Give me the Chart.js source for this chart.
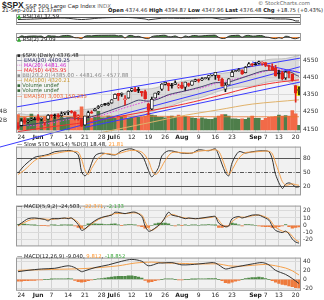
<!DOCTYPE html>
<html><head><meta charset="utf-8">
<script src="https://cdn.jsdelivr.net/npm/chart.js@4.4.1/dist/chart.umd.min.js"></script>
<style>
body{margin:0;width:324px;height:300px;background:#fff;overflow:hidden;position:relative;font-family:"DejaVu Sans",sans-serif;}
canvas{position:absolute;left:0;}
.t{position:absolute;white-space:nowrap;font-size:5.3px;color:#222;line-height:1;}
</style></head><body>
<div class="t" style="left:2px;top:1px;font-size:5.5px"><b style="font-size:8.5px;font-family:'Liberation Sans'">$SPX</b> S&amp;P 500 Large Cap Index <span style="color:#777">INDX</span></div>
<div class="t" style="left:258px;top:1px;color:#666">© StockCharts.com</div>
<div class="t" style="left:2px;top:8px">21-Sep-2021 11:37am</div>
<div class="t" style="left:108px;top:8px"><b>Open</b> 4374.46 <b>High</b> 4394.87 <b>Low</b> 4347.96 <b>Last</b> 4376.48 <b>Chg</b> +18.75 (+0.43%) <span style="color:#3a3">▲</span></div>

<canvas id="c1" width="324" height="21" style="top:13px"></canvas>
<canvas id="c2" width="324" height="17" style="top:33px"></canvas>
<canvas id="c3" width="324" height="104" style="top:49px"></canvas>
<canvas id="c4" width="324" height="60" style="top:141px"></canvas>
<canvas id="c5" width="324" height="52" style="top:200px"></canvas>
<canvas id="c6" width="324" height="48" style="top:252px"></canvas>

<div class="t" style="left:17px;top:14px"><span style="color:#3a3">▲</span> RSI(14) 37.59</div>
<div class="t" style="left:17px;top:37px"><span style="color:#3a3">▲</span> RSI(2) 29.09</div>
<div class="t" style="left:17px;top:53px">▪ $SPX (Daily) 4376.48</div>
<div class="t" style="left:17px;top:58px;color:#336">— <span>EMA(20) 4409.25</span></div>
<div class="t" style="left:17px;top:63px;color:#c2c">··· MA(20) 4481.46</div>
<div class="t" style="left:17px;top:68px;color:#e22">— MA(50) 4435.95</div>
<div class="t" style="left:17px;top:73px;color:#888">▪ BB(20,2.0) 4385.00 - 4481.46 - 4577.88</div>
<div class="t" style="left:17px;top:78px;color:#c93">— MA(100) 4320.21</div>
<div class="t" style="left:17px;top:83px;color:#363">▪ Volume undef</div>
<div class="t" style="left:17px;top:88px;color:#363">▪ Volume undef</div>
<div class="t" style="left:17px;top:94px;color:#e63">— EMA(50) 3,003,150,235</div>
<div class="t" style="left:17px;top:142px">— Slow STO %K(14) %D(3) 18.48, <span style="color:#f93">21.81</span></div>
<div class="t" style="left:17px;top:204px">— MACD(5,9,2) -24.503, <span style="color:#f93">-22.371</span>, <span style="color:#4a4">-2.133</span></div>
<div class="t" style="left:17px;top:254px">— MACD(12,26,9) -9.040, <span style="color:#f93">9.812</span>, <span style="color:#4a4">-18.852</span></div>

<script>
// ---------- DATA ----------
const dates = ['May 21','May 24','May 25','May 26','May 27','May 28','Jun 1','Jun 2','Jun 3','Jun 4','Jun 7','Jun 8','Jun 9','Jun 10','Jun 11','Jun 14','Jun 15','Jun 16','Jun 17','Jun 18','Jun 21','Jun 22','Jun 23','Jun 24','Jun 25','Jun 28','Jun 29','Jun 30','Jul 1','Jul 2','Jul 6','Jul 7','Jul 8','Jul 9','Jul 12','Jul 13','Jul 14','Jul 15','Jul 16','Jul 19','Jul 20','Jul 21','Jul 22','Jul 23','Jul 26','Jul 27','Jul 28','Jul 29','Jul 30','Aug 2','Aug 3','Aug 4','Aug 5','Aug 6','Aug 9','Aug 10','Aug 11','Aug 12','Aug 13','Aug 16','Aug 17','Aug 18','Aug 19','Aug 20','Aug 23','Aug 24','Aug 25','Aug 26','Aug 27','Aug 30','Aug 31','Sep 1','Sep 2','Sep 3','Sep 7','Sep 8','Sep 9','Sep 10','Sep 13','Sep 14','Sep 15','Sep 16','Sep 17','Sep 20','Sep 21'];
const tickDays = [1,6,10,15,20,25,28,30,34,39,44,49,54,59,64,71,74,78,83];
const tickText = ['24','Jun','7','14','21','28','Jul','6','12','19','26','Aug','9','16','23','Sep','7','13','20'];
const monthTicks = ['Jun','Jul','Aug','Sep'];

const open  = [4168,4170,4205,4191,4201,4210,4216,4207,4191,4207,4229,4233,4232,4228,4243,4249,4255,4248,4220,4205,4173,4225,4249,4257,4274,4285,4294,4290,4301,4326,4357,4352,4321,4330,4373,4382,4381,4369,4368,4297,4266,4331,4361,4382,4410,4417,4402,4410,4395,4406,4393,4415,4405,4429,4437,4436,4443,4447,4464,4462,4463,4441,4382,4406,4454,4484,4490,4490,4478,4514,4529,4528,4535,4532,4536,4519,4514,4506,4475,4479,4447,4477,4469,4403,4374];
const high  = [4188,4209,4213,4203,4213,4218,4234,4215,4198,4234,4233,4237,4238,4250,4249,4256,4258,4252,4233,4212,4226,4255,4256,4271,4286,4292,4300,4302,4321,4355,4358,4360,4344,4372,4387,4393,4393,4370,4376,4301,4336,4359,4369,4415,4422,4417,4416,4430,4412,4422,4423,4417,4430,4441,4440,4449,4450,4461,4468,4480,4463,4446,4418,4444,4490,4492,4502,4495,4513,4537,4531,4537,4545,4541,4536,4522,4530,4521,4492,4485,4486,4485,4471,4403,4395];
const low   = [4151,4168,4183,4186,4198,4203,4198,4199,4172,4207,4216,4211,4218,4224,4233,4234,4242,4203,4202,4165,4173,4218,4241,4255,4268,4281,4287,4287,4301,4326,4316,4340,4290,4330,4367,4368,4362,4341,4324,4234,4263,4329,4350,4375,4406,4373,4388,4410,4387,4385,4374,4398,4404,4426,4422,4431,4441,4436,4459,4438,4431,4399,4368,4406,4454,4483,4486,4468,4477,4514,4515,4522,4527,4522,4513,4493,4493,4457,4445,4435,4438,4448,4428,4306,4348];
const close = [4156,4197,4188,4196,4201,4204,4202,4208,4193,4230,4227,4227,4220,4239,4247,4255,4247,4224,4222,4166,4225,4246,4242,4266,4281,4291,4292,4298,4320,4352,4344,4358,4321,4370,4385,4369,4374,4360,4327,4258,4323,4359,4367,4412,4422,4401,4401,4419,4395,4387,4423,4403,4429,4437,4432,4437,4448,4461,4468,4480,4448,4400,4406,4442,4480,4486,4496,4470,4509,4529,4523,4524,4537,4535,4520,4514,4493,4459,4469,4443,4481,4474,4433,4358,4376];
const volume = [3.3,2.6,2.7,2.5,3.4,2.4,2.7,2.5,2.8,2.5,2.6,2.8,2.6,2.8,2.4,2.6,2.7,3.0,3.2,5.0,2.8,2.7,2.5,2.7,4.0,2.6,2.6,3.0,2.9,2.5,3.0,2.9,3.1,2.5,2.6,2.8,2.7,2.8,3.0,3.6,3.2,3.1,2.8,2.8,2.6,2.9,3.0,2.7,3.2,2.9,2.9,2.8,2.6,2.5,2.4,2.6,2.4,2.3,2.3,2.6,3.0,3.3,3.3,3.0,2.4,2.4,2.3,2.4,2.3,2.6,3.0,2.5,2.5,2.1,2.5,2.7,2.8,2.9,3.2,3.0,3.1,3.0,4.2,3.5,1.0];
const volEma50 = [[0,2.9],[20,2.95],[40,2.95],[60,2.85],[84,2.85]];

const ema20 = [[0,4165],[5,4180],[10,4195],[15,4215],[19,4210],[22,4222],[25,4240],[29,4268],[33,4295],[36,4318],[39,4312],[42,4325],[45,4350],[50,4372],[55,4397],[59,4420],[62,4418],[65,4435],[70,4468],[73,4487],[76,4492],[78,4487],[81,4483],[82,4478],[83,4465],[84,4457]];
const ma20  = [[0,4175],[5,4170],[10,4185],[15,4205],[19,4212],[22,4218],[25,4230],[30,4262],[35,4292],[40,4319],[45,4345],[50,4372],[55,4390],[60,4420],[65,4440],[70,4465],[75,4490],[80,4495],[84,4481]];
const ma50  = [[0,4135],[10,4163],[20,4188],[30,4222],[40,4258],[50,4297],[60,4344],[70,4395],[77,4420],[84,4436]];
const ma100 = [[0,4040],[10,4075],[20,4110],[30,4150],[40,4190],[50,4230],[60,4262],[70,4295],[84,4320]];
const bbUpper = [[0,4240],[5,4230],[10,4235],[15,4250],[19,4262],[22,4268],[25,4285],[30,4340],[35,4378],[40,4385],[45,4410],[50,4430],[55,4445],[60,4470],[65,4487],[70,4530],[75,4555],[80,4560],[84,4578]];
const bbLower = [[0,4110],[5,4110],[10,4135],[15,4160],[19,4162],[22,4168],[25,4175],[30,4185],[35,4205],[40,4253],[45,4280],[50,4315],[55,4335],[60,4370],[65,4392],[70,4400],[75,4425],[80,4430],[84,4385]];
const trendUpper = [[-6,4260],[86,4568]];
const trendLower = [[-6,4042],[86,4521]];
const trendMid   = [[20,4160],[86,4430]];
const trendSep   = [[70,4540],[86,4470]];

const rsi14 = [[0,50],[5,55],[9,60],[14,63],[19,50],[24,62],[29,68],[33,68],[38,55],[39,47],[43,62],[50,60],[58,65],[61,52],[64,62],[72,68],[77,55],[80,55],[82,48],[83,37],[84,37.6]];
const rsi2 = [20,80,60,70,75,78,70,75,35,85,75,75,55,80,88,93,70,30,28,5,70,85,80,92,95,97,97,98,99,99,80,88,25,85,92,60,68,40,15,4,60,80,85,95,96,60,58,80,40,30,80,55,82,90,75,80,90,95,97,98,40,10,18,70,90,93,95,45,85,94,75,78,90,85,50,40,15,5,30,12,70,55,15,3,29];

const stoK = [[0,48],[2,65],[5,82],[7,85],[9,88],[11,94],[14,96],[16,96],[18,87],[19,51],[20,42],[21,50],[23,85],[25,91],[29,87],[31,96],[34,100],[37,87],[39,54],[40,40],[42,60],[43,85],[45,96],[49,91],[52,91],[54,98],[57,96],[59,100],[60,86],[62,49],[63,42],[64,70],[66,94],[68,91],[70,94],[73,96],[75,94],[76,78],[77,45],[79,15],[80,24],[81,27],[82,24],[83,18],[84,18.5]];
const stoD = [[0,45],[2,55],[5,75],[7,83],[9,86],[11,90],[14,94],[16,95],[18,93],[19,78],[20,55],[21,45],[22,58],[24,80],[26,90],[29,88],[31,92],[34,97],[37,93],[39,75],[40,55],[41,45],[42,50],[44,75],[46,92],[49,92],[52,91],[54,95],[57,97],[59,98],[60,95],[61,80],[62,60],[63,45],[64,55],[66,80],[68,92],[70,93],[73,95],[75,95],[76,90],[77,70],[78,50],[79,30],[80,22],[81,23],[82,25],[83,23],[84,21.8]];

const macd1 = [[0,0],[1,3],[3,9],[5,10],[8,8],[9,6],[10,9],[12,9],[14,10],[15,9],[16,10],[18,1],[19,-7],[20,-5],[22,3],[24,9],[26,12],[28,14],[29,18],[32,16],[33,17],[35,18],[37,12],[38,-1],[39,-8],[40,-7],[43,4],[45,18],[46,14],[48,12],[50,9],[51,10],[53,9],[55,10],[58,12],[59,12],[60,3],[62,-2],[63,-1],[64,9],[66,12],[67,10],[70,14],[72,14],[73,12],[75,7],[76,-1],[77,-7],[79,-10],[80,-8],[81,-12],[82,-19],[83,-23],[84,-24.5]];
const sig1 = [[0,-1],[2,4],[4,8],[6,9],[8,8.5],[10,8],[12,9],[14,9.5],[16,9.5],[18,4],[19,-3],[20,-5],[21,-2],[23,5],[25,10],[27,13],[29,16],[32,16],[35,17],[37,14],[38,5],[39,-4],[40,-7],[42,-1],[44,10],[46,15],[48,12],[50,10],[53,9],[55,9.5],[58,11],[59,12],[60,7],[61,1],[62,-2],[63,0],[64,5],[66,11],[68,11],[70,13],[72,14],[73,13],[75,9],[76,3],[77,-3],[79,-8],[80,-9],[81,-10],[82,-15],[83,-20],[84,-22.4]];
const hist1 = [1,1.5,1.5,1,0.5,0.3,0,-0.3,-0.5,-1,0.5,0.3,0,0.3,0.5,0.3,0.2,-1,-3,-4,0,2,2,2,1.5,1.5,1,1,1.5,2,0.5,-0.5,0.5,1,1,0.5,-1,-2,-4,-3,0,2,3,3,3,2,0,-1,0.5,-0.5,0.5,0,0.5,0.5,0,0.5,0.5,1,0.5,0.3,-3,-3,-2,-1,3,2,0.5,-1,1,1,0.5,0,-1,-1.5,-2,-2,-3,-3,-2,-1,1,-2,-4,-3,-2.1];

const macd2 = [[0,17],[3,20],[7,23],[11,24.5],[15,30],[17,26],[19,17],[20,19],[23,26],[27,32],[31,40],[34,44],[37,40],[39,30],[42,36],[43,36],[46,37],[49,32],[54,34],[58,37],[59,36],[60,32],[62,23],[64,26],[67,30],[70,34],[73,37],[75,32],[77,20],[80,11],[82,2],[84,-9]];
const sig2 = [[0,20],[10,22],[20,24],[30,30],[35,36],[40,38],[45,36],[50,35],[55,34],[60,34],[63,30],[66,29],[70,31],[74,33],[77,30],[80,25],[82,19],[84,9.8]];
const hist2 = [-4,-4,-3,-3,-2,-2,-1,-1,0,0,0.5,1,1,1.5,1.5,2,1,-2,-5,-6,-5,-3,-1,0,1,2,3,4,5,6,7,7,7,8,8,7,5,3,-2,-6,-5,-3,-1,0,1,1.5,1,0,-1,-1,0,0,0.5,0.5,1,1,1.5,2,2,2,0,-3,-7,-8,-6,-4,-2,0,2,3,4,4,5,4,2,0,-3,-6,-9,-11,-12,-14,-16,-18,-18.9];

const priceTicks = [4150,4200,4250,4300,4350,4400,4450,4500,4550];
const volTicks = [2,4];

// ---------- HELPERS ----------
const FONT = {family:'DejaVu Sans', size:6};
const pts = a => a.map(([x,y]) => ({x,y}));
const idx = a => a.map((y,x) => ({x,y}));
const GREEN = '#4e7e4a', RED = '#f26a48';

const bgPlugin = {
  id:'panelbg',
  beforeDraw(c, a, o){ const {ctx, chartArea:r} = c; ctx.save(); ctx.fillStyle = o.color || '#f1f1f1'; ctx.fillRect(r.left, r.top, r.width, r.height); ctx.restore(); },
  afterDraw(c, a, o){ const {ctx, chartArea:r} = c; ctx.save(); ctx.strokeStyle = '#9a9a9a'; ctx.lineWidth = 1; ctx.strokeRect(r.left+0.5, r.top+0.5, r.width-1, r.height-1); ctx.restore(); }
};
const levelPlugin = {
  id:'levels',
  beforeDatasetsDraw(c, a, o){
    if(!o.lines) return; const {ctx, chartArea:r} = c; const y = c.scales.y;
    ctx.save();
    o.lines.forEach(l => { const p = Math.round(y.getPixelForValue(l.v)) + 0.5; ctx.strokeStyle = l.color; ctx.lineWidth = l.w || 1; ctx.setLineDash(l.dash || []); ctx.beginPath(); ctx.moveTo(r.left, p); ctx.lineTo(r.right, p); ctx.stroke(); });
    ctx.restore();
  }
};
Chart.register(bgPlugin, levelPlugin);

function xAxis(showLabels){
  return {
    type:'linear', min:-0.6, max:84.6, offset:false,
    afterBuildTicks: s => { s.ticks = tickDays.map(v => ({value:v})); },
    grid:{color:'#d2d2d2', lineWidth:1, drawTicks:false, offset:false},
    border:{display:false},
    ticks:{display:showLabels, autoSkip:false, maxRotation:0, padding:1, color:'#222',
      font: ctx => ({family:'DejaVu Sans', size:6, weight: monthTicks.includes(tickText[tickDays.indexOf(ctx.tick && ctx.tick.value)]) ? 'bold' : 'normal'}),
      callback: v => { const i = tickDays.indexOf(v); return i < 0 ? '' : tickText[i]; } }
  };
}
function yRight(min, max, ticks, gridOn, fmt){
  return {
    position:'right', min, max,
    afterBuildTicks: s => { s.ticks = ticks.map(v => ({value:v})); },
    afterFit: s => { s.width = 23; },
    grid:{display:gridOn, color:'#dadada', drawTicks:false},
    border:{display:false},
    ticks:{font:FONT, color:'#333', padding:2, callback: fmt || (v => v)}
  };
}
const baseOpts = (extra) => Object.assign({
  responsive:false, animation:false, events:[],
  layout:{padding:{left:16, right:0, top:0, bottom:0}},
  plugins:{legend:{display:false}, tooltip:{enabled:false}}
}, extra);
const line = (data, color, w, extra) => Object.assign({type:'line', data, borderColor:color, borderWidth:w, pointRadius:0, fill:false, tension:0.3}, extra||{});

// ---------- RSI(14) ----------
new Chart(document.getElementById('c1'), {
  type:'line',
  data:{datasets:[ line(pts(rsi14), '#333', 1) ]},
  options: baseOpts({
    layout:{padding:{left:16, top:1, bottom:1}},
    scales:{ x: Object.assign(xAxis(false), {grid:{display:false}}), y: yRight(0, 100, [], false) },
    plugins:{legend:{display:false}, tooltip:{enabled:false}, panelbg:{color:'#fafafa'},
      levels:{lines:[{v:70,color:'#555'},{v:30,color:'#555'}]}}
  })
});

// ---------- RSI(2) ----------
new Chart(document.getElementById('c2'), {
  type:'line',
  data:{datasets:[
    line(idx(rsi2), '#333', 1, {tension:0.35, fill:{target:{value:50}, above:'#3f7d3a', below:'#f08a3c'}})
  ]},
  options: baseOpts({
    layout:{padding:{left:16, top:0, bottom:1}},
    scales:{ x: Object.assign(xAxis(false), {grid:{display:false}}), y: yRight(-60, 160, [], false) },
    plugins:{legend:{display:false}, tooltip:{enabled:false}, panelbg:{color:'#fafafa'},
      levels:{lines:[{v:50,color:'#666'}]}}
  })
});

// ---------- PRICE ----------
const up = close.map((c,i) => i === 0 ? c >= open[i] : c >= close[i-1]);
const candleCol = close.map((c,i) => up[i] ? '#111' : '#e0221c');
const bodies = close.map((c,i) => ({x:i, y:[open[i], c]}));
const wicks = close.map((c,i) => ({x:i, y:[low[i], high[i]]}));
const last = close.length - 1;
new Chart(document.getElementById('c3'), {
  type:'bar',
  data:{datasets:[
    line(pts(bbUpper), '#b8b8b8', 0.8, {order:20}),
    line(pts(bbLower), '#b8b8b8', 0.8, {order:20, fill:'-1', backgroundColor:'rgba(200,200,200,0.55)'}),
    {type:'bar', yAxisID:'yv', data: idx(volume), backgroundColor: volume.map((v,i) => up[i] ? GREEN : RED), barThickness:3, grouped:false, order:15},
    line(pts(volEma50), '#e8742c', 0.8, {yAxisID:'yv', order:14}),
    line(pts(ma100), '#e0b26a', 1, {order:10}),
    line(pts(ma50), '#f03030', 1, {order:9}),
    line(pts(ma20), '#e040e0', 1, {order:8, borderDash:[1.5,1.5]}),
    line(pts(ema20), '#44446e', 1, {order:7}),
    line(pts(trendUpper), '#3a3aff', 1, {order:6, tension:0}),
    line(pts(trendLower), '#3a3aff', 1, {order:6, tension:0, clip:{left:20, top:0, right:0, bottom:20}}),
    line(pts(trendMid), '#3a3aff', 1, {order:6, tension:0}),
    line(pts(trendSep), '#3a3aff', 1, {order:6, tension:0}),
    {type:'bar', data:[{x:last, y:[low[last]-3, high[last]+3]}], backgroundColor:'#ffff00', barThickness:5, grouped:false, order:4},
    {type:'bar', data: wicks, backgroundColor: candleCol, barThickness:1, grouped:false, order:3},
    {type:'bar', data: bodies, backgroundColor: close.map((c,i) => c >= open[i] ? (i===last ? '#ffff00' : '#ffffff') : candleCol[i]), borderColor: candleCol, borderWidth:0.8, borderSkipped:false, barThickness:3, minBarLength:1, grouped:false, order:2}
  ]},
  options: baseOpts({
    layout:{padding:{left:0, top:0, bottom:11}},
    scales:{
      x: xAxis(true),
      y: yRight(4128, 4583, priceTicks, true),
      yv: {position:'left', min:-0.6, max:16.2, afterBuildTicks: s => { s.ticks = volTicks.map(v => ({value:v})); }, afterFit: s => { s.width = 16; },
           grid:{display:false}, border:{display:false}, ticks:{font:FONT, color:'#333', padding:1, callback: v => v + 'B'}}
    },
    plugins:{legend:{display:false}, tooltip:{enabled:false}, panelbg:{color:'#f4f4f4'}}
  })
});

// ---------- SLOW STO ----------
new Chart(document.getElementById('c4'), {
  type:'line',
  data:{datasets:[ line(pts(stoD), '#f5a04a', 1), line(pts(stoK), '#333', 1) ]},
  options: baseOpts({
    scales:{ x: xAxis(false), y: yRight(0, 105, [20,50,80], false) },
    plugins:{legend:{display:false}, tooltip:{enabled:false}, panelbg:{color:'#f1f1f1'},
      levels:{lines:[{v:80,color:'#555'},{v:20,color:'#555'},{v:50,color:'#555',dash:[4,1.5,1,1.5]}]}}
  })
});

// ---------- MACD(5,9,2) ----------
new Chart(document.getElementById('c5'), {
  type:'bar',
  data:{datasets:[
    {type:'bar', data: idx(hist1), backgroundColor: hist1.map(v => v >= 0 ? '#4f8a47' : '#ee7a3c'), barThickness:2.6, grouped:false, order:5},
    line(pts(sig1), '#f5a04a', 1, {order:2}), line(pts(macd1), '#333', 1, {order:1})
  ]},
  options: baseOpts({
    scales:{ x: xAxis(false), y: yRight(-29, 27, [-20,-10,0,10,20], true) },
    plugins:{legend:{display:false}, tooltip:{enabled:false}, panelbg:{color:'#f1f1f1'}}
  })
});

// ---------- MACD(12,26,9) ----------
new Chart(document.getElementById('c6'), {
  type:'bar',
  data:{datasets:[
    {type:'bar', data: idx(hist2), backgroundColor: hist2.map(v => v >= 0 ? '#4f8a47' : '#ee7a3c'), barThickness:2.6, grouped:false, order:5},
    line(pts(sig2), '#f5a04a', 1, {order:2}), line(pts(macd2), '#333', 1, {order:1})
  ]},
  options: baseOpts({
    scales:{ x: xAxis(true), y: yRight(-25, 48, [-20,0,20,40], true) },
    plugins:{legend:{display:false}, tooltip:{enabled:false}, panelbg:{color:'#f1f1f1'}}
  })
});
</script>
</body></html>
